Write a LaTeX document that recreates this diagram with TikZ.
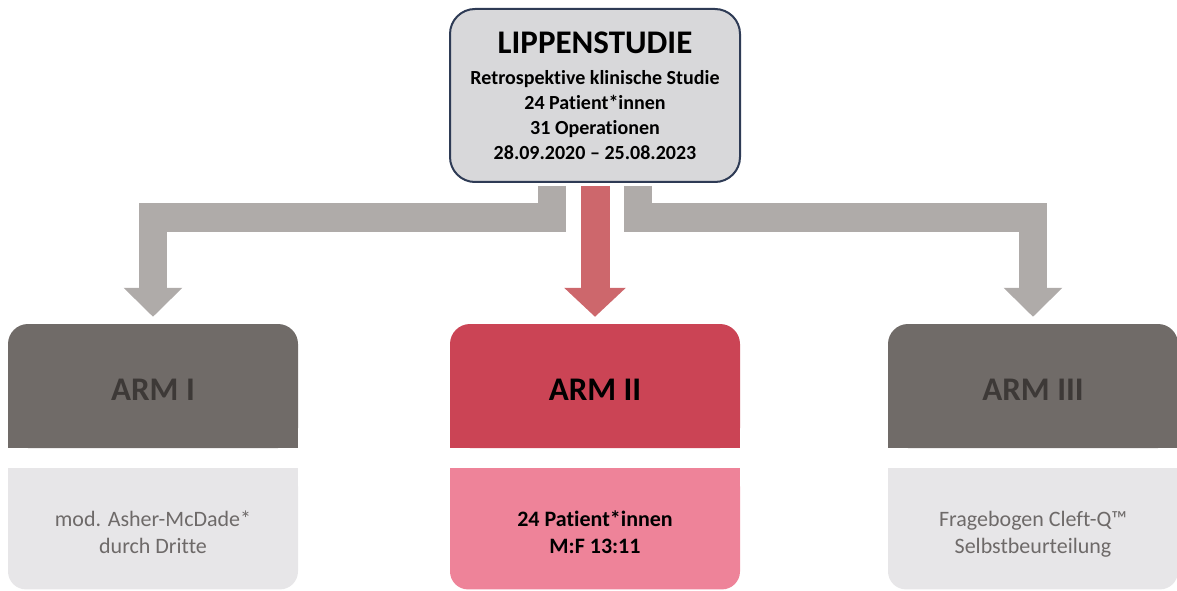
\documentclass[tikz,border=0pt]{standalone}
\usepackage{fontspec}
\setmainfont{Carlito}[Ligatures={TeX,NoCommon}]
\usetikzlibrary{arrows.meta,positioning}
\definecolor{boxfill}{HTML}{D8D8DA}
\definecolor{boxline}{HTML}{2E3B55}
\definecolor{arrowgray}{HTML}{AFABA9}
\definecolor{arrowred}{HTML}{CD676C}
\definecolor{armdark}{HTML}{706B68}
\definecolor{armdarktext}{HTML}{3D3937}
\definecolor{armlight}{HTML}{E7E6E8}
\definecolor{armlighttext}{HTML}{6E6A69}
\definecolor{armred}{HTML}{CB4455}
\definecolor{armpink}{HTML}{EE8399}
\tikzset{
  studiebox/.style={draw=boxline, line width=2pt, fill=boxfill, rounded corners=25pt,
    minimum width=290pt, minimum height=173pt, align=center, text depth=-10pt,
    font=\bfseries\fontsize{20}{25}\selectfont},
  armhead/.style={minimum width=290pt, minimum height=124pt, inner sep=0pt,
    text height=29pt, text depth=0pt,
    font=\bfseries\fontsize{33}{33}\selectfont, path picture={
      \fill[#1, rounded corners=20pt] (path picture bounding box.south west) rectangle (path picture bounding box.north east);
      \fill[#1] (path picture bounding box.south west) rectangle (path picture bounding box.east);}},
  armbody/.style={minimum width=290pt, minimum height=121pt, inner sep=0pt, align=center,
    text height=55pt, text depth=5pt,
    font=\fontsize{22}{27}\selectfont, path picture={
      \fill[#1, rounded corners=18pt] (path picture bounding box.south west) rectangle (path picture bounding box.north east);
      \fill[#1] (path picture bounding box.west) rectangle (path picture bounding box.north east);}},
  grayarrow/.style={draw=arrowgray, line width=28pt, -{Triangle[width=57pt,length=29pt]},
    shorten <=3pt, shorten >=7pt},
  redarrow/.style={draw=arrowred, line width=29pt, -{Triangle[width=60pt,length=29pt]},
    shorten <=3pt, shorten >=7pt}
}
\begin{document}
\begin{tikzpicture}[x=1pt,y=1pt]
\useasboundingbox (0,0) rectangle (1177,590);
% study box
\node[studiebox] (studie) at (595,494.5) {{\fontsize{33}{33}\selectfont LIPPENSTUDIE}\\[6pt]
  Retrospektive klinische Studie\\ 24 Patient*innen\\ 31 Operationen\\ 28.09.2020 -- 25.08.2023};

% three arms
\node[armhead=armdark, text=armdarktext] (arm1) at (153,204) {ARM I};
\node[armhead=armred, text=black] (arm2) at (595,204) {ARM II};
\node[armhead=armdark, text=armdarktext] (arm3) at (1033,204) {ARM III};
\node[armbody=armlight, text=armlighttext, below=20pt of arm1] (arm1body) {mod. Asher-McDade*\\ durch Dritte};
\node[armbody=armpink, text=black, font=\bfseries\fontsize{22}{27}\selectfont, below=20pt of arm2] (arm2body) {24 Patient*innen\\ M:F 13:11};
\node[armbody=armlight, text=armlighttext, below=20pt of arm3] (arm3body) {Fragebogen Cleft-Q™\\ Selbstbeurteilung};

% arrows
\coordinate (split) at (595,372.5);
\draw[grayarrow] ([xshift=-43pt]studie.south) |- (arm1.north |- split) -- (arm1.north);
\draw[grayarrow] ([xshift=43pt]studie.south) |- (arm3.north |- split) -- (arm3.north);
\draw[redarrow] (studie.south) -- (arm2.north);
\end{tikzpicture}
\end{document}
